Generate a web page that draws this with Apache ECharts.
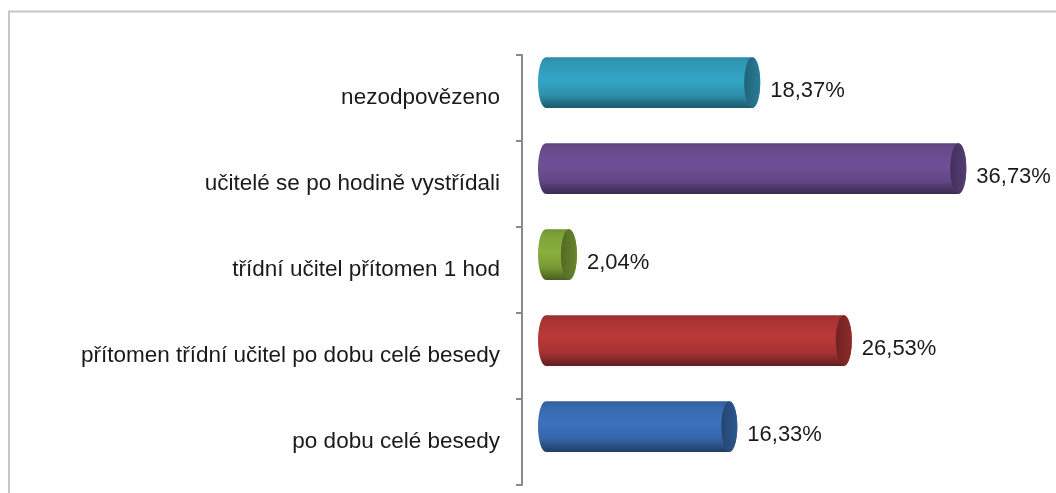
<!DOCTYPE html>
<html>
<head>
<meta charset="utf-8">
<title>Přítomnost učitele</title>
<script src="https://cdn.jsdelivr.net/npm/echarts@6/dist/echarts.min.js"></script>
<style>
  html, body { margin: 0; padding: 0; background: #fff; }
  #charts { width: 1056px; height: 493px; }
</style>
</head>
<body>
<div id="charts"></div>
<script>
  // data, top to bottom as in the chart
  const categories = [
    'nezodpovězeno',
    'učitelé se po hodině vystřídali',
    'třídní učitel přítomen 1 hod',
    'přítomen třídní učitel po dobu celé besedy',
    'po dobu celé besedy'
  ];
  const values = [18.37, 36.73, 2.04, 26.53, 16.33];
  const barColors = ['#33a0bf', '#6c4e93', '#85aa3b', '#b53737', '#3a6fb7'];

  const myChart = echarts.init(document.getElementById('charts'));

  // multiply rgb by k (k < 1 darker, k > 1 lighter)
  function shade(hex, k) {
    const n = parseInt(hex.slice(1), 16);
    const c = [(n >> 16) & 255, (n >> 8) & 255, n & 255].map(function (v) {
      return Math.max(0, Math.min(255, Math.round(v * k)));
    });
    return 'rgb(' + c.join(',') + ')';
  }

  function fmt(v) {
    return v.toFixed(2).replace('.', ',') + '%';
  }

  // cylinder for one bar
  function renderItem(params, api) {
    const idx = api.value(0);
    const val = api.value(1);
    const start = api.coord([0, idx]);
    const end = api.coord([val, idx]);
    const band = api.size([0, 1])[1];
    const h = band * 0.59;
    const ry = h / 2;
    const rx = 8;
    const cy = start[1] - band * 0.18;
    const xl = start[0] - rx;
    const xr = end[0] - rx;
    const base = barColors[idx];

    const body = 'M' + xl + ',' + (cy - ry) +
      ' L' + xr + ',' + (cy - ry) +
      ' A' + rx + ',' + ry + ' 0 0 1 ' + xr + ',' + (cy + ry) +
      ' L' + xl + ',' + (cy + ry) +
      ' A' + rx + ',' + ry + ' 0 0 1 ' + xl + ',' + (cy - ry) + ' Z';

    return {
      type: 'group',
      children: [
        {
          type: 'path',
          shape: { pathData: body },
          style: {
            fill: new echarts.graphic.LinearGradient(0, 0, 0, 1, [
              { offset: 0, color: shade(base, 0.86) },
              { offset: 0.12, color: shade(base, 0.95) },
              { offset: 0.45, color: shade(base, 1.03) },
              { offset: 0.75, color: shade(base, 0.9) },
              { offset: 1, color: shade(base, 0.55) }
            ])
          }
        },
        {
          type: 'ellipse',
          shape: { cx: xr, cy: cy, rx: rx, ry: ry },
          style: {
            fill: new echarts.graphic.LinearGradient(0, 0, 1, 0, [
              { offset: 0, color: shade(base, 0.62) },
              { offset: 1, color: shade(base, 0.78) }
            ])
          }
        },
        {
          type: 'text',
          x: end[0] + 10,
          y: start[1] - 7,
          style: {
            text: fmt(val),
            fill: '#1a1a1a',
            font: '22px "Liberation Sans", Arial, sans-serif',
            verticalAlign: 'middle',
            align: 'left'
          }
        }
      ]
    };
  }

  const option = {
    backgroundColor: '#fff',
    animation: false,
    graphic: [{
      type: 'rect',
      shape: { x: 9, y: 11.5, width: 1100, height: 600 },
      style: { fill: 'none', stroke: '#c6c6c6', lineWidth: 2 },
      silent: true
    }],
    grid: {
      left: 554,
      right: 53,
      top: 55,
      bottom: 8
    },
    xAxis: {
      type: 'value',
      min: 0,
      max: 40,
      show: false
    },
    yAxis: {
      type: 'category',
      inverse: true,
      offset: 32,
      data: categories,
      axisLine: {
        show: true,
        onZero: false,
        lineStyle: { color: '#8a8a8a', width: 2 }
      },
      axisTick: {
        show: true,
        length: 6,
        lineStyle: { color: '#8a8a8a', width: 2 }
      },
      axisLabel: {
        margin: 22,
        color: '#1a1a1a',
        fontSize: 22.5,
        fontFamily: '"Liberation Sans", Arial, sans-serif'
      },
      splitLine: { show: false }
    },
    series: [{
      type: 'custom',
      renderItem: renderItem,
      encode: { x: 1, y: 0 },
      data: values.map(function (v, i) { return [i, v]; })
    }]
  };
  myChart.setOption(option);
</script>
</body>
</html>
